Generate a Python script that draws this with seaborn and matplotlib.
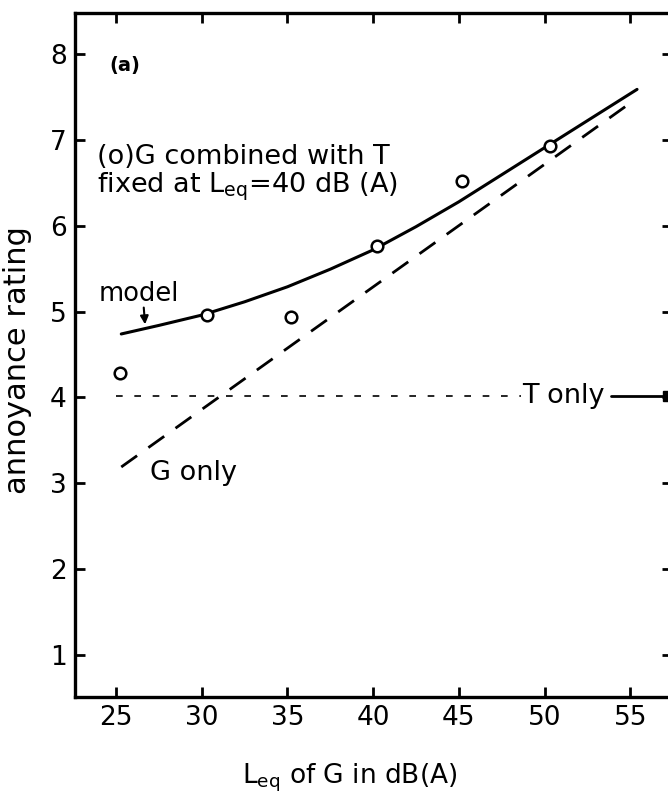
import matplotlib
matplotlib.use("Agg")
import matplotlib.pyplot as plt
import seaborn as sns
import pandas as pd

# ---- data ----
combined_leq = [25.2, 30.3, 35.2, 40.2, 45.2, 50.3]
combined_rating = [4.28, 4.96, 4.94, 5.77, 6.52, 6.93]

model_leq = [25.3, 27.5, 30.0, 32.5, 35.0, 37.5, 40.0, 42.5, 45.0, 47.5, 50.0, 52.5, 55.4]
model_rating = [4.74, 4.84, 4.96, 5.115, 5.29, 5.495, 5.72, 5.99, 6.28, 6.595, 6.91, 7.225, 7.59]

g_only_leq = [25.3, 55.0]
g_only_rating = [3.19, 7.43]

t_only_rating = 4.02
t_only_dotted_leq = [25.0, 48.6]
t_only_arrow_leq = [53.9, 57.2]

x_ticks = [25, 30, 35, 40, 45, 50, 55]
y_ticks = [1, 2, 3, 4, 5, 6, 7, 8]

sns.set_style("ticks")
plt.rcParams["font.family"] = ["DejaVu Sans"]
plt.rcParams["mathtext.fontset"] = "dejavusans"
for k in ["text.color", "axes.labelcolor", "xtick.color", "ytick.color", "axes.edgecolor"]:
    plt.rcParams[k] = "black"

fig = plt.figure(figsize=(6.68, 7.94), dpi=100)
ax = fig.add_axes([75 / 668, 1 - 697 / 794, (672 - 75) / 668, (697 - 13) / 794])

df_model = pd.DataFrame({"x": model_leq, "y": model_rating})
df_g = pd.DataFrame({"x": g_only_leq, "y": g_only_rating})
df_c = pd.DataFrame({"x": combined_leq, "y": combined_rating})

sns.lineplot(data=df_model, x="x", y="y", ax=ax, color="black", lw=2.2, sort=True)
sns.lineplot(data=df_g, x="x", y="y", ax=ax, color="black", lw=2.0,
             linestyle=(0, (7, 5)))
sns.scatterplot(data=df_c, x="x", y="y", ax=ax, marker="o", s=70,
                facecolor="white", edgecolor="black", linewidth=1.8, zorder=5)

df_td = pd.DataFrame({"x": t_only_dotted_leq, "y": [t_only_rating] * 2})
sns.lineplot(data=df_td, x="x", y="y", ax=ax, color="black", lw=1.2,
             linestyle=(0, (4, 7)))
df_ta = pd.DataFrame({"x": t_only_arrow_leq, "y": [t_only_rating] * 2})
sns.lineplot(data=df_ta, x="x", y="y", ax=ax, color="black", lw=2.0)
ax.plot([t_only_arrow_leq[1]], [t_only_rating], marker="s", ms=7, color="black",
        clip_on=False, zorder=6)

ax.set_xlim(22.6, 57.44)
ax.set_ylim(0.51, 8.48)
ax.set_xticks(x_ticks)
ax.set_yticks(y_ticks)
ax.tick_params(direction="in", length=7, width=2, labelsize=19, pad=6,
               top=True, right=True, labeltop=False, labelright=False)
for s in ax.spines.values():
    s.set_linewidth(2.4)

ax.set_xlabel(r"$\mathregular{L_{eq}}$ of G in dB(A)", fontsize=19)
ax.xaxis.set_label_coords(0.46, -0.095)
ax.set_ylabel("annoyance rating", fontsize=22)
ax.yaxis.set_label_coords(-0.072, 0.493)

fs = 19.5
ax.text(24.6, 7.87, "(a)", fontsize=14, fontweight="bold", va="center")
ax.text(23.9, 6.80, "(o)G combined with T", fontsize=fs, va="center")
ax.text(23.9, 6.45, r"fixed at $\mathregular{L_{eq}}$=40 dB (A)", fontsize=fs, va="center")
ax.text(24.0, 5.21, "model", fontsize=18.5, va="center")
ax.annotate("", xy=(26.7, 4.82), xytext=(26.6, 5.08),
            arrowprops=dict(arrowstyle="-|>", color="black", lw=1.5, mutation_scale=12))
ax.text(27.0, 3.12, "G only", fontsize=fs, va="center")
ax.text(48.7, t_only_rating, "T only", fontsize=fs, va="center")

fig.savefig("out.png", dpi=100)
